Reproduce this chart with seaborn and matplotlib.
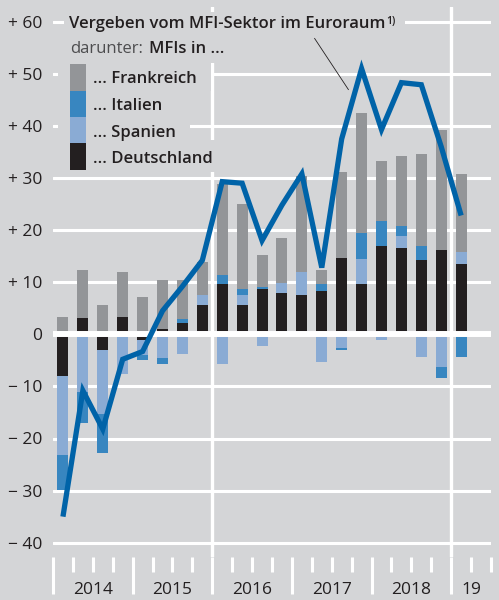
import matplotlib
matplotlib.use("Agg")
import matplotlib.pyplot as plt
from matplotlib.patches import Rectangle
from matplotlib.transforms import blended_transform_factory
import numpy as np
import pandas as pd
import seaborn as sns

# ---------------- data (Mrd €, quarterly) ----------------
quarters = ["2014Q1", "2014Q2", "2014Q3", "2014Q4",
            "2015Q1", "2015Q2", "2015Q3", "2015Q4",
            "2016Q1", "2016Q2", "2016Q3", "2016Q4",
            "2017Q1", "2017Q2", "2017Q3", "2017Q4",
            "2018Q1", "2018Q2", "2018Q3", "2018Q4",
            "2019Q1"]
year_labels = ["2014", "2015", "2016", "2017", "2018", "19"]
year_quarters = [4, 4, 4, 4, 4, 2]

deutschland = [-8.0, 3.2, -3.0, 3.4, -1.0, 1.0, 2.1, 5.6, 9.6, 5.7, 8.6,
               8.0, 7.5, 8.4, 14.6, 9.6, 16.9, 16.5, 14.2, 16.2, 13.5]
spanien = [-15.2, -11.0, -12.3, -7.6, -3.0, -4.6, -3.7, 1.9, -5.7, 1.8, -2.3,
           1.8, 4.5, -5.3, -2.6, 4.8, -1.0, 2.4, -4.3, -6.3, 2.3]
italien = [-6.6, -6.0, -7.4, 0.0, -0.9, -1.1, 0.9, 0.0, 1.7, 1.1, 0.5,
           0.0, -0.4, 1.2, -0.5, 5.0, 4.9, 1.9, 2.8, -2.1, -4.3]
frankreich = [3.4, 9.1, 5.6, 8.6, 7.1, 9.4, 7.4, 6.3, 17.5, 16.4, 6.2,
              8.6, 18.3, 2.7, 16.6, 23.0, 11.5, 13.5, 17.6, 23.0, 14.9]
euroraum = [-35.0, -10.8, -18.2, -4.8, -3.3, 4.5, 9.2, 14.2, 29.3, 29.0, 18.0,
            24.8, 30.8, 12.8, 37.5, 51.0, 39.3, 48.3, 47.9, 36.0, 22.8]

country_names = ["Deutschland", "Spanien", "Italien", "Frankreich"]
y_ticks = [-40, -30, -20, -10, 0, 10, 20, 30, 40, 50, 60]
y_ticklabels = ["\u2212 40", "\u2212 30", "\u2212 20", "\u2212 10", "0",
                "+ 10", "+ 20", "+ 30", "+ 40", "+ 50", "+ 60"]

# ---------------- style ----------------
BG = "#d4d5d7"
C_DE = "#231f20"
C_ES = "#8aabd4"
C_IT = "#3886c0"
C_FR = "#939598"
C_LINE = "#0063a8"
TXT = "#231f20"
colors = [C_DE, C_ES, C_IT, C_FR]

sns.set_theme(style="white")
plt.rcParams["font.family"] = ["Open Sans", "DejaVu Sans"]

W, H = 499, 600
fig = plt.figure(figsize=(W / 100, H / 100), dpi=100, facecolor=BG)
AX_L, AX_R, AX_T, AX_B = 53, 491, 7, 557
ax = fig.add_axes([AX_L / W, (H - AX_B) / H, (AX_R - AX_L) / W, (AX_B - AX_T) / H])
ax.set_facecolor(BG)
for s in ax.spines.values():
    s.set_visible(False)


def ax_xy(px, py):
    return ((px - AX_L) / (AX_R - AX_L), (AX_B - py) / (AX_B - AX_T))


# grid
for v in y_ticks:
    if v != 0:
        ax.axhline(v, color="white", lw=2.2, zorder=1)
ax.axhline(0, color="white", lw=4.3, zorder=2.5)
for xv in (7.5, 19.5):
    ax.axvline(xv, color="white", lw=2.4, zorder=1)

# stacked bars via cumulative overplotting
idx = np.arange(len(quarters))
vals = np.array([deutschland, spanien, italien, frankreich])
pos_cum = np.cumsum(np.clip(vals, 0, None), axis=0)
neg_cum = np.cumsum(np.clip(vals, None, 0), axis=0)
for cum in (pos_cum, neg_cum):
    for k in range(3, -1, -1):
        df = pd.DataFrame({"pos": idx, "h": cum[k]})
        sns.barplot(data=df, x="pos", y="h", orient="x", native_scale=True,
                    color=colors[k], saturation=1, width=0.55, errorbar=None,
                    linewidth=0, ax=ax, zorder=2)

# euro area line
sns.lineplot(x=idx, y=euroraum, color=C_LINE, linewidth=3.8, ax=ax, zorder=3,
             solid_joinstyle="miter", solid_capstyle="butt")

ax.set_xlim(-0.5, 21.5)
ax.set_ylim((334.3 - AX_B) / 5.21, (334.3 - AX_T) / 5.21)
ax.set_xlabel("")
ax.set_ylabel("")

# y axis
ax.set_yticks(y_ticks)
ax.set_yticklabels(y_ticklabels)
ax.tick_params(axis="y", left=False, length=0, pad=8, labelsize=12.5,
               labelcolor=TXT)

# x axis: quarter / year ticks
bounds = np.cumsum([0] + year_quarters) - 0.5
major = list(bounds[:-1])
minor = [b for b in np.arange(-0.5, 22, 1.0) if b not in major]
ax.set_xticks(major)
ax.set_xticks(minor, minor=True)
ax.set_xticklabels([])
ax.tick_params(axis="x", which="major", bottom=True, length=26.6, width=2.2,
               color="white", direction="out")
ax.tick_params(axis="x", which="minor", bottom=True, length=10.8, width=2.2,
               color="white", direction="out")
trans = blended_transform_factory(ax.transData, ax.transAxes)
for lab, b0, b1 in zip(year_labels, bounds[:-1], bounds[1:]):
    ax.text((b0 + b1) / 2, ax_xy(0, 589.7)[1], lab, transform=trans,
            ha="center", va="center", fontsize=12.5, color=TXT)

# masks behind the text blocks (cover grid lines)
def mask(x0, y0, x1, y1):
    xa, ya = ax_xy(x0, y1)
    ax.add_patch(Rectangle((xa, ya), (x1 - x0) / (AX_R - AX_L),
                           (y1 - y0) / (AX_B - AX_T), transform=ax.transAxes,
                           facecolor=BG, edgecolor="none", zorder=1.5,
                           clip_on=False))

mask(64, 12, 405, 34)
mask(64, 34, 226, 63)
mask(58, 63, 210.5, 91)
mask(58, 91, 175, 117)
mask(58, 117, 190, 143)
mask(58, 140, 226, 172)

# title with superscript
t = ax.text(*ax_xy(69, 28), "Vergeben vom MFI-Sektor im Euroraum",
            transform=ax.transAxes, ha="left", va="baseline", fontsize=12,
            fontweight="semibold", color=TXT, zorder=5)
fig.canvas.draw()
r = fig.canvas.get_renderer()
bb = t.get_window_extent(r)
x_end_px = bb.x1
ax.text(*ax_xy(x_end_px + 1, 23.5), "1)", transform=ax.transAxes, ha="left",
        va="baseline", fontsize=7.5, fontweight="semibold", color=TXT, zorder=5)

# subtitle
s1 = ax.text(*ax_xy(70, 53.3), "darunter:", transform=ax.transAxes, ha="left",
             va="baseline", fontsize=12, color="#4d4d4f", zorder=5)
fig.canvas.draw()
bb1 = s1.get_window_extent(r)
ax.text(*ax_xy(bb1.x1 + 6, 53.3), "MFIs in ...", transform=ax.transAxes,
        ha="left", va="baseline", fontsize=12, fontweight="semibold",
        color=TXT, zorder=5)

# legend (stacked colour blocks)
leg_order = [3, 2, 1, 0]  # Frankreich, Italien, Spanien, Deutschland
leg_top = 64.3
leg_h = 26.4
baselines = [83.3, 110, 136.7, 162.7]
for i, k in enumerate(leg_order):
    y0 = leg_top + i * leg_h
    xa, ya = ax_xy(70, y0 + leg_h)
    ax.add_patch(Rectangle((xa, ya), 16 / (AX_R - AX_L), leg_h / (AX_B - AX_T),
                           transform=ax.transAxes, facecolor=colors[k],
                           edgecolor="none", zorder=4, clip_on=False))
    ax.text(*ax_xy(93, baselines[i]), "... " + country_names[k],
            transform=ax.transAxes, ha="left", va="baseline", fontsize=12,
            fontweight="semibold", color=TXT, zorder=5)

# pointer line from title to euro-area line
ax.annotate("", xy=ax_xy(350, 92), xytext=ax_xy(313, 36),
            xycoords="axes fraction", textcoords="axes fraction",
            arrowprops=dict(arrowstyle="-", color=TXT, lw=0.6), zorder=5)

fig.savefig("out.png", dpi=100, facecolor=BG)
